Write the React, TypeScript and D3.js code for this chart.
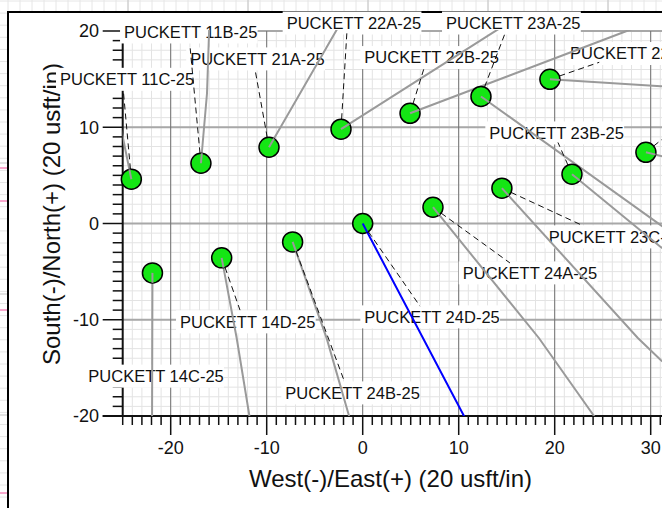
import React, { useMemo } from 'react';
import * as d3 from 'd3';

// ---- data (plot units, 20 usft/in) ----
const wellNames = [
  'PUCKETT 11C-25', 'PUCKETT 11B-25', 'PUCKETT 21A-25', 'PUCKETT 22A-25',
  'PUCKETT 22B-25', 'PUCKETT 23A-25', 'PUCKETT 22C-25', 'PUCKETT 23D-25',
  'PUCKETT 23B-25', 'PUCKETT 23C-25', 'PUCKETT 24A-25', 'PUCKETT 24D-25',
  'PUCKETT 24B-25', 'PUCKETT 14D-25', 'PUCKETT 14C-25',
];
const surfaceX = [-24.1, -16.85, -9.76, -2.26, 4.93, 12.32, 19.5, 29.5, 21.8, 14.5, 7.32, 0, -7.3, -14.69, -21.9];
const surfaceY = [4.6, 6.26, 7.92, 9.8, 11.45, 13.2, 14.98, 7.4, 5.12, 3.67, 1.69, 0, -1.91, -3.57, -5.13];

const pathX: number[][] = [
  [-24.1, -25.6],
  [-16.85, -16.22, -16.0, -15.9],
  [-9.76, -2.78, -2.2],
  [-2.26, 13.68, 15.4],
  [4.93, 27.43, 30.5],
  [12.32, 31.07, 33.5],
  [19.5, 31.07, 33.5],
  [29.5, 31.2, 33.5],
  [21.8, 31.07, 33.5],
  [14.5, 28.66, 31.07, 33.5],
  [7.32, 18.37, 24.1, 24.8],
  [0, 10.55, 11.1],
  [-7.3, -3.75, -1.42, -1.2],
  [-14.69, -13.12, -11.8, -11.6],
  [-21.9, -21.94, -21.95],
];
const pathY: number[][] = [
  [4.6, 12.0],
  [6.26, 13.5, 20.0, 21.5],
  [7.92, 20.0, 21.0],
  [9.8, 19.9, 21.0],
  [11.45, 19.97, 21.2],
  [13.2, -0.19, -1.7],
  [14.98, 14.26, 14.1],
  [7.4, 6.99, 6.6],
  [5.12, -2.46, -4.1],
  [3.67, -11.9, -14.2, -16.2],
  [1.69, -11.92, -20.0, -21.0],
  [0, -20.0, -21.0],
  [-1.91, -11.94, -20.0, -21.0],
  [-3.57, -11.95, -20.0, -21.0],
  [-5.13, -20.0, -21.0],
];
const pathIsPlan = [false, false, false, false, false, false, false, false, false, false, false, true, false, false, false];

const leaderEndX = [-24.92, -17.97, -11.2, -1.64, 6.39, 14.82, 24.64, 32.5, 20.34, 22.84, 15.34, 5.97, -1.95, -12.78, NaN];
const leaderEndY = [13.63, 18.2, 15.92, 19.97, 16.13, 19.74, 16.75, 9.8, 8.42, -0.18, -4.1, -8.59, -16.29, -9.0, NaN];

const labelX = [-31.53, -24.86, -17.97, -7.92, 0.17, 8.68, 21.6, 33.5, 13.19, 19.37, 10.42, 0.17, -8.06, -19.03, -28.58];
const labelY = [14.98, 19.9, 17.1, 20.83, 17.24, 20.83, 17.66, 10.8, 9.41, -1.39, -5.13, -9.7, -17.6, -10.22, -15.86];

const xTickValues = [-20, -10, 0, 10, 20, 30];
const yTickValues = [-20, -10, 0, 10, 20];
const xTitle = 'West(-)/East(+) (20 usft/in)';
const yTitle = 'South(-)/North(+) (20 usft/in)';

const W = 662;
const H = 508;
const FONT = "'Liberation Sans', Arial, Helvetica, sans-serif";
const LABEL_SIZE = 16.5;

export default function App() {
  const x = d3.scaleLinear().domain([-25, 32]).range([122.7, 669.9]);
  const y = d3.scaleLinear().domain([-20, 20]).range([416, 31]);
  const plotL = x(-25);
  const plotB = y(-20);
  const plotT = y(20);

  const labelWidths = useMemo(() => {
    const c = document.createElement('canvas').getContext('2d');
    return wellNames.map((n) => {
      if (!c) return 134;
      c.font = `${LABEL_SIZE}px ${FONT}`;
      return c.measureText(n).width;
    });
  }, []);

  const line = d3.line<[number, number]>().x((d) => x(d[0])).y((d) => y(d[1]));

  const minorX = d3.range(-25, 33);
  const minorY = d3.range(-20, 21);
  const majorX = minorX.filter((v) => v % 10 === 0);
  const majorY = minorY.filter((v) => v % 10 === 0);

  // page background grid
  const bgV = d3.range(8, W + 12, 12);
  const bgH = d3.range(1, H + 12, 12.1);
  const bgDarkV = [128, 248, 368, 488, 608];
  const bgDarkH = [163, 294, 415];
  const bgPink = [168, 201, 310, 493];

  return (
    <div style={{ position: 'fixed', left: 0, top: 0 }}>
      <svg width={W} height={H} style={{ display: 'block', fontFamily: FONT }}>
        <defs>
          <clipPath id="plotClip">
            <rect x={plotL} y={plotT - 1} width={W - plotL} height={plotB - plotT + 1} />
          </clipPath>
        </defs>
        {/* page background */}
        <rect x={0} y={0} width={W} height={H} fill="#ffffff" />
        {bgV.map((v) => (
          <line key={'bv' + v} x1={v} x2={v} y1={0} y2={H} stroke="#e6e6e6" strokeWidth={1} />
        ))}
        {bgH.map((v) => (
          <line key={'bh' + v} x1={0} x2={W} y1={v} y2={v} stroke="#e6e6e6" strokeWidth={1} />
        ))}
        {bgDarkV.map((v) => (
          <line key={'bdv' + v} x1={v} x2={v} y1={0} y2={H} stroke="#c4c4c4" strokeWidth={1} />
        ))}
        {bgDarkH.map((v) => (
          <line key={'bdh' + v} x1={0} x2={W} y1={v} y2={v} stroke="#c4c4c4" strokeWidth={1} />
        ))}
        {bgPink.map((v) => (
          <line key={'bp' + v} x1={0} x2={8} y1={v} y2={v} stroke="#f0509a" strokeWidth={1} />
        ))}
        {/* chart container */}
        <rect x={8} y={12} width={W} height={H} fill="#ffffff" />
        <line x1={8} x2={8} y1={11} y2={H} stroke="#000" strokeWidth={2} />
        <line x1={7} x2={W} y1={12} y2={12} stroke="#000" strokeWidth={2} />

        {/* grid */}
        <g clipPath="url(#plotClip)">
          {minorX.map((v) => (
            <line key={'mx' + v} x1={x(v)} x2={x(v)} y1={plotT} y2={plotB} stroke="#e3e3e3" strokeWidth={1} />
          ))}
          {minorY.map((v) => (
            <line key={'my' + v} x1={plotL} x2={W} y1={y(v)} y2={y(v)} stroke="#e3e3e3" strokeWidth={1} />
          ))}
          {majorY.map((v) => (
            <line key={'My' + v} x1={plotL} x2={W} y1={y(v)} y2={y(v)} stroke="#a8a8a8" strokeWidth={2} />
          ))}
          {majorX.map((v) => (
            <line key={'Mx' + v} x1={x(v)} x2={x(v)} y1={plotT} y2={plotB} stroke="#707070" strokeWidth={1} />
          ))}
        </g>

        {/* axes */}
        <line x1={plotL} x2={plotL} y1={plotT} y2={plotB + 1} stroke="#111" strokeWidth={2} />
        <line x1={plotL - 20} x2={W} y1={plotB} y2={plotB} stroke="#111" strokeWidth={2} />
        {minorX.map((v) => (
          <line key={'tx' + v} x1={x(v)} x2={x(v)} y1={plotB} y2={plotB + (v % 10 === 0 ? 19 : 9)} stroke="#111" strokeWidth={1.5} />
        ))}
        {minorY.map((v) => (
          <line key={'ty' + v} x1={plotL - (v % 10 === 0 ? 20 : 10)} x2={plotL} y1={y(v)} y2={y(v)} stroke="#111" strokeWidth={1.5} />
        ))}
        {xTickValues.map((v) => (
          <text key={'xl' + v} x={x(v)} y={454.3} textAnchor="middle" fontSize={18} fill="#111">
            {v}
          </text>
        ))}
        {yTickValues.map((v) => (
          <text key={'yl' + v} x={99} y={y(v)} dy="0.35em" textAnchor="end" fontSize={18} fill="#111">
            {v}
          </text>
        ))}
        <text x={390.5} y={486.5} textAnchor="middle" fontSize={24} fill="#111">
          {xTitle}
        </text>
        <text transform={`translate(59.5, 214) rotate(-90)`} textAnchor="middle" fontSize={24} fill="#111">
          {yTitle}
        </text>

        {/* labels */}
        {wellNames.map((n, i) => {
          const tx = x(labelX[i]);
          const ty = y(labelY[i]);
          if (tx > W) return null;
          return (
            <g key={'lab' + i}>
              <rect x={tx - 4} y={ty - 11.5} width={labelWidths[i] + 4} height={23} fill="#ffffff" />
              <text x={tx} y={ty} dy="0.35em" fontSize={LABEL_SIZE} fill="#111">
                {n}
              </text>
            </g>
          );
        })}

        {/* well paths */}
        <g clipPath="url(#plotClip)">
          {wellNames.map((n, i) => {
            const pts = pathX[i].map((px, j) => [px, pathY[i][j]] as [number, number]);
            return (
              <path
                key={'p' + i}
                d={line(pts) || ''}
                fill="none"
                stroke={pathIsPlan[i] ? '#0000ff' : '#9a9a9a'}
                strokeWidth={2}
              />
            );
          })}
        </g>

        {/* leaders */}
        <g clipPath="url(#plotClip)">
          {wellNames.map((n, i) =>
            isNaN(leaderEndX[i]) ? null : (
              <line
                key={'ld' + i}
                x1={x(surfaceX[i])}
                y1={y(surfaceY[i])}
                x2={x(leaderEndX[i])}
                y2={y(leaderEndY[i])}
                stroke="#111"
                strokeWidth={1}
                strokeDasharray="6,4"
              />
            ),
          )}
        </g>

        {/* surface locations */}
        {wellNames.map((n, i) => (
          <circle key={'c' + i} cx={x(surfaceX[i])} cy={y(surfaceY[i])} r={10} fill="#14e614" stroke="#000" strokeWidth={1.5} />
        ))}
        {/* path starts drawn over circle centre */}
        {wellNames.map((n, i) => {
          const pts = pathX[i].slice(0, 2).map((px, j) => [px, pathY[i][j]] as [number, number]);
          const dx = x(pts[1][0]) - x(pts[0][0]);
          const dy = y(pts[1][1]) - y(pts[0][1]);
          const len = Math.hypot(dx, dy) || 1;
          const cx = x(pts[0][0]);
          const cy = y(pts[0][1]);
          return (
            <line
              key={'ps' + i}
              x1={cx}
              y1={cy}
              x2={cx + (dx / len) * 10}
              y2={cy + (dy / len) * 10}
              stroke={pathIsPlan[i] ? '#0000ff' : '#9a9a9a'}
              strokeWidth={2}
            />
          );
        })}
      </svg>
    </div>
  );
}
